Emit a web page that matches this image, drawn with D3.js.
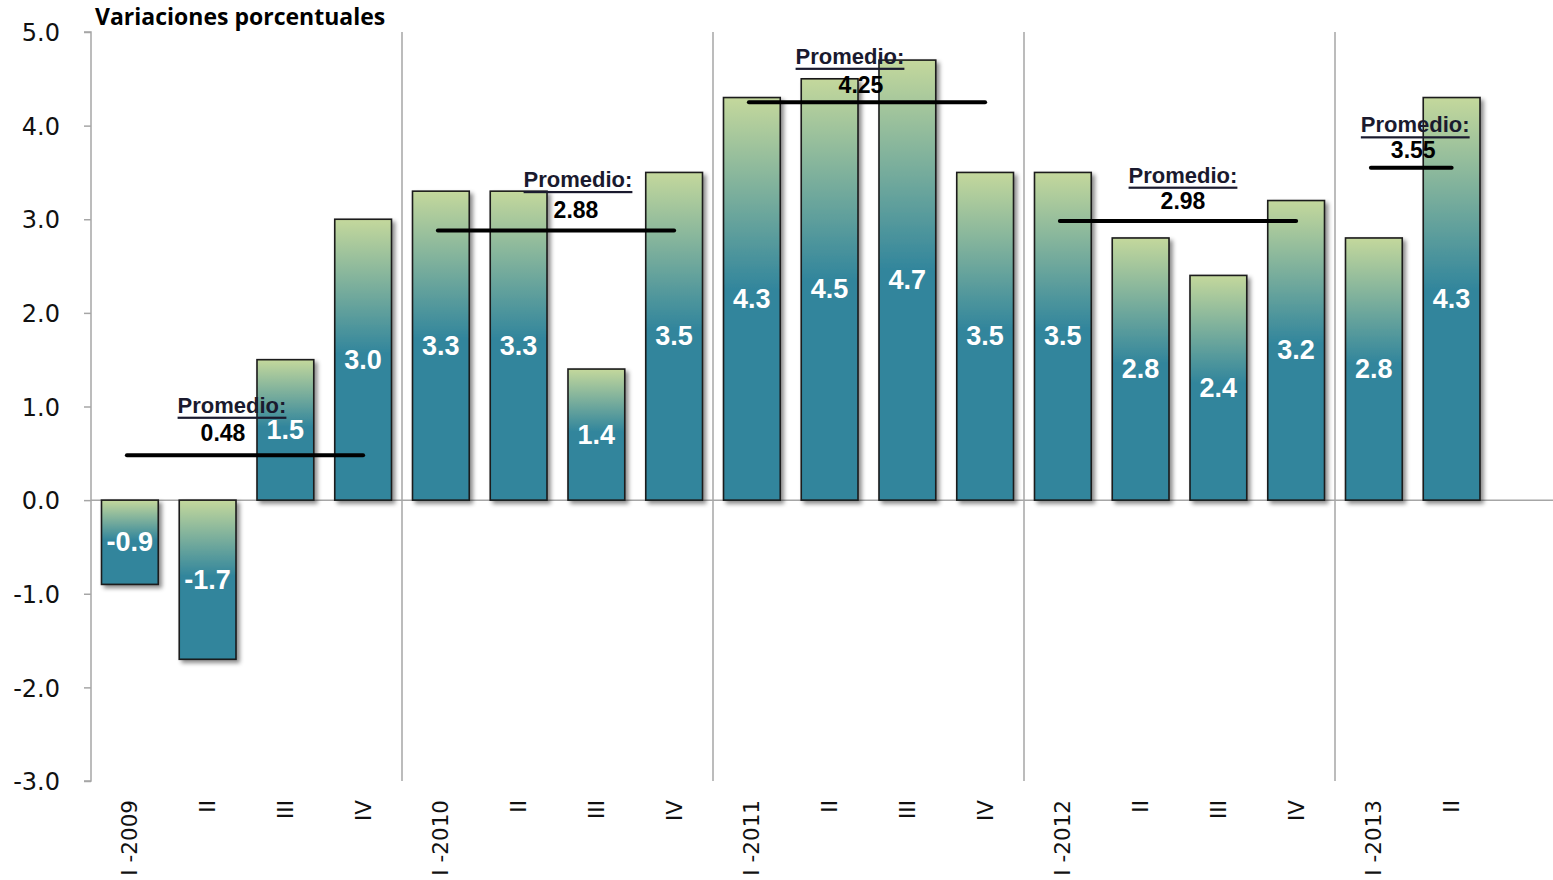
<!DOCTYPE html>
<html>
<head>
<meta charset="utf-8">
<script src="https://cdn.jsdelivr.net/npm/d3@7"></script>
<style>
  html, body { margin: 0; padding: 0; background: #fff; }
  svg { display: block; }
</style>
</head>
<body>
<svg id="chart" width="1553" height="880"></svg>
<script>
// ---------- DATA ----------
const categories = ["I -2009","II","III","IV","I -2010","II","III","IV","I -2011","II","III","IV","I -2012","II","III","IV","I -2013","II"];
const values = [-0.9, -1.7, 1.5, 3.0, 3.3, 3.3, 1.4, 3.5, 4.3, 4.5, 4.7, 3.5, 3.5, 2.8, 2.4, 3.2, 2.8, 4.3];
const yTicks = [-3, -2, -1, 0, 1, 2, 3, 4, 5];
const averages = [0.48, 2.88, 4.25, 2.98, 3.55];
const avgFirst = [0, 4, 8, 12, 16];   // first category index of each year
const avgLast  = [3, 7, 11, 15, 17];  // last category index of each year
const yearStarts = [4, 8, 12, 16];    // separator before these category indexes
const title = "Variaciones porcentuales";
const noteLabel = "Promedio:";

// ---------- LAYOUT ----------
const W = 1553, H = 880;
const plotLeft = 91, slotW = 77.75;
const plotTop = 32, plotBottom = 781;
const noteDx = [-13, 22, -17, 5, 4];
const noteDy = [-50, -51, -46, -46, -43];
const valDx  = [-22, 20, -6, 5, 2];
const valDy  = [-22, -20, -17, -20, -18];

const svg = d3.select("#chart");
const defs = svg.append("defs");

const grad = defs.append("linearGradient").attr("id", "barGrad")
  .attr("x1", 0).attr("y1", 0).attr("x2", 0).attr("y2", 1);
grad.append("stop").attr("offset", "0%").attr("stop-color", "#c4d89c");
grad.append("stop").attr("offset", "48%").attr("stop-color", "#31859c");
grad.append("stop").attr("offset", "100%").attr("stop-color", "#31859c");

const shadow = defs.append("filter").attr("id", "shadow")
  .attr("x", "-20%").attr("y", "-20%").attr("width", "150%").attr("height", "150%");
shadow.append("feDropShadow").attr("dx", 3).attr("dy", 3).attr("stdDeviation", 2.2)
  .attr("flood-color", "#000").attr("flood-opacity", 0.45);

const x = d3.scaleBand()
  .domain(d3.range(categories.length))
  .range([plotLeft, plotLeft + slotW * categories.length])
  .paddingInner(0.27).paddingOuter(0.135);
const slot = d3.scaleLinear().domain([0, categories.length]).range([plotLeft, plotLeft + slotW * categories.length]);
const y = d3.scaleLinear().domain([-3, 5]).range([plotBottom, plotTop]);

const gray = "#a6a6a6";

// year separators
svg.append("g").selectAll("line").data(yearStarts).join("line")
  .attr("x1", d => slot(d)).attr("x2", d => slot(d))
  .attr("y1", plotTop).attr("y2", plotBottom)
  .attr("stroke", gray).attr("stroke-width", 1.5);

// zero line
svg.append("line")
  .attr("x1", plotLeft).attr("x2", W)
  .attr("y1", y(0)).attr("y2", y(0))
  .attr("stroke", gray).attr("stroke-width", 1.5);

// y axis
const yAxis = d3.axisLeft(y).tickValues(yTicks).tickFormat(d3.format(".1f")).tickSize(7).tickPadding(24);
const gy = svg.append("g").attr("transform", `translate(${plotLeft},0)`).call(yAxis);
gy.select(".domain").attr("stroke", gray).attr("stroke-width", 1.5).attr("d", `M-7,${y(5)}H0V${y(-3)}H-7`);
gy.selectAll(".tick line").attr("stroke", gray).attr("stroke-width", 1.5);
gy.selectAll(".tick text")
  .attr("font-family", "'DejaVu Sans', sans-serif").attr("font-size", 24)
  .attr("fill", "#111").attr("dy", "0.36em");
gy.selectAll(".tick text").text(d => d3.format(".1f")(d).replace("−", "-"));

// bars
svg.append("g").selectAll("rect").data(values).join("rect")
  .attr("x", (d, i) => x(i))
  .attr("width", x.bandwidth())
  .attr("y", d => Math.min(y(d), y(0)))
  .attr("height", d => Math.abs(y(d) - y(0)))
  .attr("fill", "url(#barGrad)")
  .attr("stroke", "#1a1a1a").attr("stroke-width", 1.6)
  .attr("filter", "url(#shadow)");

// value labels
svg.append("g").selectAll("text").data(values).join("text")
  .attr("x", (d, i) => x(i) + x.bandwidth() / 2)
  .attr("y", d => (y(d) + y(0)) / 2)
  .attr("text-anchor", "middle").attr("dominant-baseline", "central")
  .attr("font-family", "'Liberation Sans', Arial, sans-serif")
  .attr("font-weight", "bold").attr("font-size", 27)
  .attr("fill", "#fff")
  .text(d => d3.format(".1f")(d).replace("−", "-"));

// category labels
svg.append("g").selectAll("text").data(categories).join("text")
  .attr("transform", (d, i) => `translate(${x(i) + x.bandwidth() / 2},800) rotate(-90)`)
  .attr("text-anchor", "end").attr("dominant-baseline", "central")
  .attr("font-family", "'DejaVu Sans', sans-serif").attr("font-size", 21.5)
  .attr("fill", "#111")
  .text(d => d);

// averages
const avgG = svg.append("g");
averages.forEach((a, k) => {
  const x1 = x(avgFirst[k]) + x.bandwidth() / 2 - 3;
  const x2 = x(avgLast[k]) + x.bandwidth() / 2;
  avgG.append("line")
    .attr("x1", x1).attr("x2", x2).attr("y1", y(a)).attr("y2", y(a))
    .attr("stroke", "#000").attr("stroke-width", 4).attr("stroke-linecap", "round");
  const cx = (x1 + x2) / 2;
  avgG.append("text")
    .attr("x", cx + noteDx[k]).attr("y", y(a) + noteDy[k])
    .attr("text-anchor", "middle").attr("dominant-baseline", "central")
    .attr("font-family", "'Liberation Sans', Arial, sans-serif")
    .attr("font-weight", "bold").attr("font-size", 22)
    .attr("fill", "#1a1a2e").attr("text-decoration", "underline")
    .text(noteLabel);
  avgG.append("text")
    .attr("x", cx + valDx[k]).attr("y", y(a) + valDy[k])
    .attr("text-anchor", "middle").attr("dominant-baseline", "central")
    .attr("font-family", "'Liberation Sans', Arial, sans-serif")
    .attr("font-weight", "bold").attr("font-size", 23)
    .attr("fill", "#000")
    .text(d3.format(".2f")(a));
});

// title
svg.append("text")
  .attr("x", 95).attr("y", 25)
  .attr("font-family", "'Open Sans', Lato, sans-serif")
  .attr("font-weight", "bold").attr("font-size", 23)
  .attr("fill", "#000")
  .text(title);
</script>
</body>
</html>
